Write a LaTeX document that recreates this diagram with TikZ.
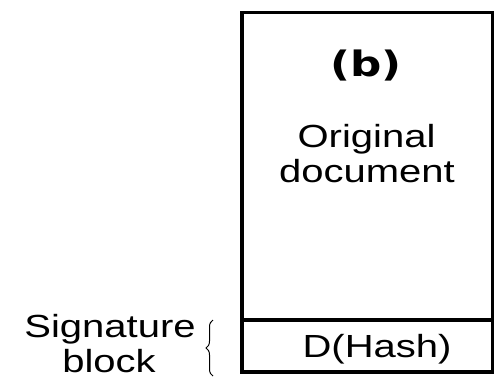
\documentclass[tikz,border=0pt]{standalone}
\usepackage{fontspec}
\usetikzlibrary{decorations.pathreplacing}
\newfontfamily\labfont{Liberation Sans}[FakeStretch=1.25]
\newfontfamily\tagfont{DejaVu Sans}[FakeStretch=1.25]
\begin{document}
\begin{tikzpicture}[x=1pt,y=-1pt,
  lab/.style={font=\labfont\fontsize{32}{38}\selectfont, inner sep=0pt, anchor=base},
  tag/.style={font=\tagfont\bfseries\fontsize{35}{40}\selectfont, inner sep=0pt, anchor=base},
  frame/.style={draw, line width=3.5pt}]
\useasboundingbox (0,0) rectangle (497,378);
% document box with signature strip
\node[frame, inner sep=0pt, minimum width=250.5pt, minimum height=359.5pt, anchor=north west]
  (doc) at (240,10.5) {};
\coordinate (divL) at (240,320);
\draw[frame] (divL) -- (divL -| doc.east);
% texts inside the box
\node[tag] (b) at (366,76) {(b)};
\node[lab] (orig) at (366.5,147) {Original};
\node[lab] (docu) at (367,182) {document};
\node[lab] (hash) at (377,357) {D(Hash)};
% label on the left
\node[lab] (sig) at (110,337) {Signature};
\node[lab] (blk) at (109,372) {block};
\coordinate (braceB) at (213,376);
\coordinate (braceT) at (213,320);
\draw[line width=1pt, decorate, decoration={brace, amplitude=7pt}] (braceB) -- (braceT);
\end{tikzpicture}
\end{document}
